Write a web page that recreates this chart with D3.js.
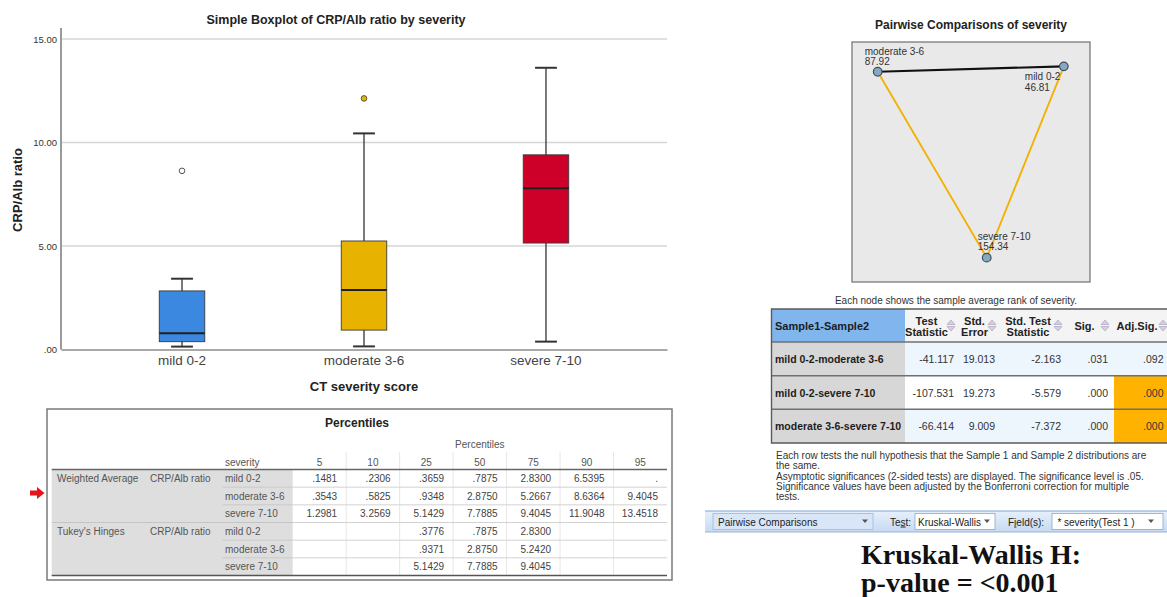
<!DOCTYPE html>
<html>
<head>
<meta charset="utf-8">
<script src="https://cdn.jsdelivr.net/npm/d3@7"></script>
<style>
  body { margin: 0; background: #fff; }
  svg { display: block; font-family: "Liberation Sans", Arial, sans-serif; }
</style>
</head>
<body>
<svg id="chart" width="1167" height="597"></svg>
<script>
// ---------- Box plot data (CRP/Alb ratio by CT severity) ----------
const categories = ["mild 0-2", "moderate 3-6", "severe 7-10"];
const boxColors = ["#3a88e0", "#e8b300", "#cc0029"];
const lowerHinge = [0.3776, 0.9371, 5.1429];
const medians = [0.7875, 2.8750, 7.7885];
const upperHinge = [2.8300, 5.2420, 9.4045];
const whiskerLow = [0.14, 0.15, 0.38];
const whiskerHigh = [3.42, 10.44, 13.61];
const outliers = [[8.63], [12.13], []];
const yTicks = [0, 5, 10, 15];

// ---------- Percentiles table ----------
const percentileLabels = ["5", "10", "25", "50", "75", "90", "95"];
const groupNames = ["Weighted Average", "Tukey's Hinges"];
const variableName = "CRP/Alb ratio";
const weightedAvg = [
  [0.1481, 0.2306, 0.3659, 0.7875, 2.8300, 6.5395, NaN],
  [0.3543, 0.5825, 0.9348, 2.8750, 5.2667, 8.6364, 9.4045],
  [1.2981, 3.2569, 5.1429, 7.7885, 9.4045, 11.9048, 13.4518]
];
const tukeyHinges = [
  [null, null, 0.3776, 0.7875, 2.8300, null, null],
  [null, null, 0.9371, 2.8750, 5.2420, null, null],
  [null, null, 5.1429, 7.7885, 9.4045, null, null]
];

// ---------- Pairwise comparisons (Kruskal-Wallis) ----------
const rankGroups = ["moderate 3-6", "mild 0-2", "severe 7-10"];
const meanRanks = [87.92, 46.81, 154.34];
const pairFrom = ["mild 0-2", "mild 0-2", "moderate 3-6"];
const pairTo = ["moderate 3-6", "severe 7-10", "severe 7-10"];
const testStatistic = [-41.117, -107.531, -66.414];
const stdError = [19.013, 19.273, 9.009];
const stdTestStatistic = [-2.163, -5.579, -7.372];
const sigValues = [0.031, 0.000, 0.000];
const adjSigValues = [0.092, 0.000, 0.000];
const alpha = 0.05;

// node placement inside the comparison panel, in unit coordinates
const nodeLayout = {
  "moderate 3-6": { u: -0.784, v: -0.752, dx: -13, dy: -17 },
  "mild 0-2":     { u: 0.780,  v: -0.797, dx: -39, dy: 14 },
  "severe 7-10":  { u: 0.132,  v: 0.797,  dx: -9,  dy: -18 }
};

const svg = d3.select("#chart");
const spssNum = v => v.toFixed(4).replace(/^0\./, ".");
const sigFmt = v => v.toFixed(3).replace(/^0\./, ".");

// =================== BOX PLOT ===================
const plot = { left: 61, right: 667, top: 28 };
const x = d3.scaleBand().domain(categories).range([plot.left, plot.right])
  .paddingInner(0).paddingOuter(0.165);
const y = d3.scaleLinear().domain([0, 15]).range([349.5, 39]);

const bp = svg.append("g");

bp.append("text").attr("x", 336).attr("y", 24).attr("text-anchor", "middle")
  .attr("font-size", 12.5).attr("font-weight", "bold").attr("fill", "#222")
  .text("Simple Boxplot of CRP/Alb ratio by severity");

// gridlines
bp.selectAll("line.grid").data(yTicks.filter(d => d > 0)).join("line")
  .attr("class", "grid")
  .attr("x1", plot.left).attr("x2", plot.right)
  .attr("y1", d => y(d)).attr("y2", d => y(d))
  .attr("stroke", "#d6d6d6").attr("stroke-width", 1.6);

// y axis
const yAxis = bp.append("g").attr("transform", `translate(${plot.left - 3},0)`)
  .call(d3.axisLeft(y).tickValues(yTicks).tickSize(0).tickPadding(1)
    .tickFormat(d => d === 0 ? ".00" : d.toFixed(2)));
yAxis.select(".domain").remove();
yAxis.selectAll("text").attr("font-size", 9.5).attr("fill", "#333")
  .attr("font-family", "'Liberation Sans', Arial, sans-serif");

bp.append("line").attr("x1", plot.left).attr("x2", plot.left)
  .attr("y1", plot.top).attr("y2", y(0))
  .attr("stroke", "#9a9a9a").attr("stroke-width", 2);

// x axis
const xAxis = bp.append("g").attr("transform", `translate(0,${y(0)})`)
  .call(d3.axisBottom(x).tickSize(0).tickPadding(6));
xAxis.select(".domain").attr("stroke", "#8c8c8c").attr("stroke-width", 1.6);
xAxis.selectAll("text").attr("font-size", 13.5).attr("fill", "#444")
  .attr("font-family", "'Liberation Sans', Arial, sans-serif");

bp.append("text").attr("x", 364).attr("y", 391).attr("text-anchor", "middle")
  .attr("font-size", 13).attr("font-weight", "bold").attr("fill", "#222")
  .text("CT severity score");
bp.append("text").attr("transform", "translate(22,190) rotate(-90)")
  .attr("text-anchor", "middle")
  .attr("font-size", 13).attr("font-weight", "bold").attr("fill", "#222")
  .text("CRP/Alb ratio");

const boxW = x.bandwidth() * 0.25;
const capW = x.bandwidth() * 0.12;
const boxes = bp.selectAll("g.box").data(categories).join("g").attr("class", "box")
  .attr("transform", d => `translate(${x(d) + x.bandwidth() / 2},0)`);

boxes.append("line").attr("x1", 0).attr("x2", 0)
  .attr("y1", (d, i) => y(whiskerLow[i])).attr("y2", (d, i) => y(whiskerHigh[i]))
  .attr("stroke", "#333").attr("stroke-width", 1.3);
boxes.append("line").attr("x1", -capW / 2).attr("x2", capW / 2)
  .attr("y1", (d, i) => y(whiskerHigh[i])).attr("y2", (d, i) => y(whiskerHigh[i]))
  .attr("stroke", "#333").attr("stroke-width", 2);
boxes.append("line").attr("x1", -capW / 2).attr("x2", capW / 2)
  .attr("y1", (d, i) => y(whiskerLow[i])).attr("y2", (d, i) => y(whiskerLow[i]))
  .attr("stroke", "#333").attr("stroke-width", 2);
boxes.append("rect").attr("x", -boxW / 2).attr("width", boxW)
  .attr("y", (d, i) => y(upperHinge[i]))
  .attr("height", (d, i) => y(lowerHinge[i]) - y(upperHinge[i]))
  .attr("fill", (d, i) => boxColors[i]).attr("stroke", "#3a3a3a").attr("stroke-width", 0.9);
boxes.append("line").attr("x1", -boxW / 2).attr("x2", boxW / 2)
  .attr("y1", (d, i) => y(medians[i])).attr("y2", (d, i) => y(medians[i]))
  .attr("stroke", "#1f1f1f").attr("stroke-width", 2);
boxes.each(function (d, i) {
  d3.select(this).selectAll("circle").data(outliers[i]).join("circle")
    .attr("cx", 0).attr("cy", v => y(v)).attr("r", 2.8)
    .attr("fill", i === 0 ? "#fff" : boxColors[i])
    .attr("stroke", "#555").attr("stroke-width", 1);
});

// =================== PERCENTILES TABLE ===================
const pt = svg.append("g");
const T = { x0: 47, y0: 409, x1: 672, y1: 580, inL: 51.7, inR: 667, gray: 292.7, hdrY: 469.5, botY: 575.5 };
const colX = d3.scaleBand().domain(percentileLabels).range([T.gray, T.inR]);
const rowY = d3.scaleBand().domain(d3.range(6)).range([T.hdrY, T.botY]);

pt.append("rect").attr("x", T.x0).attr("y", T.y0).attr("width", T.x1 - T.x0).attr("height", T.y1 - T.y0)
  .attr("fill", "#fff").attr("stroke", "#7a7a7a").attr("stroke-width", 1.5);
pt.append("rect").attr("x", T.inL).attr("y", T.hdrY).attr("width", T.gray - T.inL).attr("height", T.botY - T.hdrY)
  .attr("fill", "#dedede");

pt.append("text").attr("x", 357).attr("y", 427).attr("text-anchor", "middle")
  .attr("font-size", 12).attr("font-weight", "bold").attr("fill", "#222").text("Percentiles");
pt.append("text").attr("x", (T.gray + T.inR) / 2).attr("y", 447.5).attr("text-anchor", "middle")
  .attr("font-size", 10).attr("fill", "#555").text("Percentiles");
pt.append("text").attr("x", 225).attr("y", 466).attr("font-size", 10).attr("fill", "#555").text("severity");
pt.selectAll("text.pc").data(percentileLabels).join("text").attr("class", "pc")
  .attr("x", d => colX(d) + colX.bandwidth() / 2).attr("y", 466).attr("text-anchor", "middle")
  .attr("font-size", 10).attr("fill", "#555").text(d => d);
// faint column separators
pt.selectAll("line.csep").data(percentileLabels.slice(1)).join("line").attr("class", "csep")
  .attr("x1", d => colX(d)).attr("x2", d => colX(d)).attr("y1", 452).attr("y2", T.botY)
  .attr("stroke", "#e6e6e6").attr("stroke-width", 1);

// row separators
d3.range(1, 6).forEach(r => {
  const full = r === 3;
  pt.append("line").attr("x1", full ? T.inL : 222.5).attr("x2", T.gray)
    .attr("y1", rowY(r)).attr("y2", rowY(r))
    .attr("stroke", full ? "#c4c4c4" : "#cacaca").attr("stroke-width", 1);
  pt.append("line").attr("x1", T.gray).attr("x2", T.inR)
    .attr("y1", rowY(r)).attr("y2", rowY(r))
    .attr("stroke", "#d2d2d2").attr("stroke-width", 1);
});
pt.append("line").attr("x1", T.inL).attr("x2", T.inR).attr("y1", T.hdrY).attr("y2", T.hdrY)
  .attr("stroke", "#666").attr("stroke-width", 1.6);
pt.append("line").attr("x1", T.inL).attr("x2", T.inR).attr("y1", T.botY).attr("y2", T.botY)
  .attr("stroke", "#555").attr("stroke-width", 1.6);

const tableRows = [];
[weightedAvg, tukeyHinges].forEach((block, g) => {
  block.forEach((vals, s) => tableRows.push({ g, s, vals }));
});
const rowsG = pt.selectAll("g.prow").data(tableRows).join("g").attr("class", "prow")
  .attr("transform", (d, i) => `translate(0,${rowY(i) + rowY.bandwidth() / 2 + 3.5})`);
rowsG.filter(d => d.s === 0).append("text").attr("x", 57).attr("font-size", 10).attr("fill", "#555")
  .text(d => groupNames[d.g]);
rowsG.filter(d => d.s === 0).append("text").attr("x", 150).attr("font-size", 10).attr("fill", "#555")
  .text(variableName);
rowsG.append("text").attr("x", 225).attr("font-size", 10).attr("fill", "#555")
  .text(d => categories[d.s]);
rowsG.each(function (d) {
  d3.select(this).selectAll("text.v").data(d.vals).join("text").attr("class", "v")
    .attr("x", (v, j) => colX(percentileLabels[j]) + colX.bandwidth() - 9)
    .attr("text-anchor", "end").attr("font-size", 10).attr("fill", "#444")
    .text(v => v === null ? "" : (Number.isNaN(v) ? "." : spssNum(v)));
});

// row marker
pt.append("path")
  .attr("d", "M30,490.5 L37,490.5 L37,487 L44.5,493 L37,499 L37,495.5 L30,495.5 Z")
  .attr("fill", "#e8141b");

// =================== PAIRWISE COMPARISONS GRAPH ===================
const pw = svg.append("g");
const P = { x0: 852, x1: 1090, y0: 42, y1: 282 };
const gx = d3.scaleLinear().domain([-1, 1]).range([P.x0, P.x1]);
const gy = d3.scaleLinear().domain([-1, 1]).range([P.y0, P.y1]);

pw.append("text").attr("x", 971).attr("y", 29).attr("text-anchor", "middle")
  .attr("font-size", 12).attr("font-weight", "bold").attr("fill", "#222")
  .text("Pairwise Comparisons of severity");
pw.append("rect").attr("x", P.x0).attr("y", P.y0).attr("width", P.x1 - P.x0).attr("height", P.y1 - P.y0)
  .attr("fill", "#e9e9e9").attr("stroke", "#7a7a7a").attr("stroke-width", 1.3);

const nodePos = g => [gx(nodeLayout[g].u), gy(nodeLayout[g].v)];
pw.selectAll("line.edge").data(pairFrom.map((f, i) => i)).join("line").attr("class", "edge")
  .attr("x1", i => nodePos(pairFrom[i])[0]).attr("y1", i => nodePos(pairFrom[i])[1])
  .attr("x2", i => nodePos(pairTo[i])[0]).attr("y2", i => nodePos(pairTo[i])[1])
  .attr("stroke", i => adjSigValues[i] < alpha ? "#f2b000" : "#111")
  .attr("stroke-width", i => adjSigValues[i] < alpha ? 1.8 : 2.2);

const nodes = pw.selectAll("g.node").data(rankGroups).join("g").attr("class", "node")
  .attr("transform", g => `translate(${nodePos(g)[0]},${nodePos(g)[1]})`);
nodes.append("circle").attr("r", 4.3).attr("fill", "#86a9c0").attr("stroke", "#3b4d5c").attr("stroke-width", 1.2);
nodes.append("text").attr("x", g => nodeLayout[g].dx).attr("y", g => nodeLayout[g].dy)
  .attr("font-size", 10).attr("fill", "#333").text(g => g);
nodes.append("text").attr("x", g => nodeLayout[g].dx).attr("y", g => nodeLayout[g].dy + 10.5)
  .attr("font-size", 10).attr("fill", "#333").text((g, i) => meanRanks[i].toFixed(2));

pw.append("text").attr("x", 956).attr("y", 304).attr("text-anchor", "middle")
  .attr("font-size", 10).attr("fill", "#333")
  .text("Each node shows the sample average rank of severity.");

// =================== PAIRWISE TABLE ===================
const rt = svg.append("g");
const R = { x0: 771.5, x1: 1172, labR: 905, hTop: 309, hBot: 342, bot: 443 };
const dataCols = [
  { head: ["Test", "Statistic"], right: 960, vals: testStatistic, fmt: v => v.toFixed(3) },
  { head: ["Std.", "Error"], right: 1001, vals: stdError, fmt: v => v.toFixed(3) },
  { head: ["Std. Test", "Statistic"], right: 1067, vals: stdTestStatistic, fmt: v => v.toFixed(3) },
  { head: ["Sig."], right: 1114, vals: sigValues, fmt: sigFmt },
  { head: ["Adj.Sig."], right: 1172, vals: adjSigValues, fmt: sigFmt }
];
dataCols.forEach((c, i) => { c.left = i === 0 ? R.labR : dataCols[i - 1].right; });
const rY = d3.scaleBand().domain(d3.range(pairFrom.length)).range([R.hBot, R.bot]);

// header
rt.append("rect").attr("x", R.x0).attr("y", R.hTop).attr("width", R.labR - R.x0).attr("height", R.hBot - R.hTop)
  .attr("fill", "#80b5ee");
rt.append("rect").attr("x", R.labR).attr("y", R.hTop).attr("width", R.x1 - R.labR).attr("height", R.hBot - R.hTop)
  .attr("fill", "#f4f4f4");
rt.append("text").attr("x", 775).attr("y", R.hTop + 21).attr("font-size", 11).attr("font-weight", "bold")
  .attr("fill", "#1d1d1d").text("Sample1-Sample2");

const heads = rt.selectAll("g.head").data(dataCols).join("g").attr("class", "head");
heads.each(function (c) {
  const g = d3.select(this);
  const cx = (c.left + c.right - 16) / 2 + 2;
  const mid = (R.hTop + R.hBot) / 2;
  c.head.forEach((t, k) => {
    g.append("text").attr("x", cx).attr("y", mid + 4 + (c.head.length === 2 ? (k === 0 ? -5 : 6) : 0))
      .attr("text-anchor", "middle").attr("font-size", 11).attr("font-weight", "bold")
      .attr("fill", "#222").text(t);
  });
  const ax = c.right - 9;
  g.append("path").attr("d", `M${ax - 4},${mid - 1} L${ax + 4},${mid - 1} L${ax},${mid - 5.5} Z`)
    .attr("fill", "#d6cfe0").attr("stroke", "#a59cb4").attr("stroke-width", 0.6);
  g.append("path").attr("d", `M${ax - 4},${mid + 1} L${ax + 4},${mid + 1} L${ax},${mid + 5.5} Z`)
    .attr("fill", "#d6cfe0").attr("stroke", "#a59cb4").attr("stroke-width", 0.6);
});

// body rows
const rowBg = i => i % 2 === 0 ? "#edf5fd" : "#ffffff";
pairFrom.forEach((f, i) => {
  const top = rY(i), h = rY.bandwidth();
  rt.append("rect").attr("x", R.x0).attr("y", top).attr("width", R.labR - R.x0).attr("height", h).attr("fill", "#d7d7d7");
  rt.append("rect").attr("x", R.labR).attr("y", top).attr("width", R.x1 - R.labR).attr("height", h).attr("fill", rowBg(i));
  rt.append("text").attr("x", 775).attr("y", top + h / 2 + 4).attr("font-size", 10.5).attr("font-weight", "bold")
    .attr("fill", "#1d1d1d").text(`${f}-${pairTo[i]}`);
  dataCols.forEach((c, k) => {
    if (k === dataCols.length - 1 && c.vals[i] < alpha) {
      rt.append("rect").attr("x", c.left).attr("y", top).attr("width", c.right - c.left).attr("height", h)
        .attr("fill", "#ffb300");
    }
    const tx = k === dataCols.length - 1 ? 1163.5 : c.right - 6;
    rt.append("text").attr("x", tx).attr("y", top + h / 2 + 4).attr("text-anchor", "end")
      .attr("font-size", 10.5).attr("fill", "#333").text(c.fmt(c.vals[i]));
  });
});
// rules
[R.hBot, ...d3.range(1, pairFrom.length).map(i => rY(i))].forEach(yy => {
  rt.append("line").attr("x1", R.x0).attr("x2", R.x1).attr("y1", yy).attr("y2", yy)
    .attr("stroke", "#707070").attr("stroke-width", 1.5);
});
rt.append("path").attr("d", `M${R.x1},${R.hTop} L${R.x0},${R.hTop} L${R.x0},${R.bot} L${R.x1},${R.bot}`)
  .attr("fill", "none").attr("stroke", "#5a5a5a").attr("stroke-width", 1.4);

// footnotes
const notes = [
  "Each row tests the null hypothesis that the Sample 1 and Sample 2 distributions are",
  "the same.",
  "Asymptotic significances (2-sided tests) are displayed. The significance level is .05.",
  "Significance values have been adjusted by the Bonferroni correction for multiple",
  "tests."
];
rt.selectAll("text.note").data(notes).join("text").attr("class", "note")
  .attr("x", 776).attr("y", (d, i) => 459 + i * 10.3).attr("font-size", 10).attr("fill", "#333").text(d => d);

// =================== TOOLBAR ===================
const tb = svg.append("g");
const defs = svg.append("defs");
const grad = defs.append("linearGradient").attr("id", "tbGrad").attr("x1", 0).attr("x2", 0).attr("y1", 0).attr("y2", 1);
grad.append("stop").attr("offset", "0%").attr("stop-color", "#e6f0fb");
grad.append("stop").attr("offset", "100%").attr("stop-color", "#c6daf2");
tb.append("rect").attr("x", 705).attr("y", 511).attr("width", 462).attr("height", 21).attr("fill", "url(#tbGrad)");
tb.append("line").attr("x1", 705).attr("x2", 1167).attr("y1", 511).attr("y2", 511).attr("stroke", "#7fa6d6").attr("stroke-width", 1.2);
tb.append("line").attr("x1", 705).attr("x2", 1167).attr("y1", 532).attr("y2", 532).attr("stroke", "#9ab3d0").attr("stroke-width", 1);

tb.append("rect").attr("x", 713).attr("y", 513.5).attr("width", 160).attr("height", 16)
  .attr("fill", "#d8e6f7").attr("stroke", "#9fb8d8").attr("stroke-width", 0.8);
tb.append("rect").attr("x", 915).attr("y", 513.5).attr("width", 80).attr("height", 16)
  .attr("fill", "#fff").attr("stroke", "#8ea8c8").attr("stroke-width", 0.8);
tb.append("rect").attr("x", 1052).attr("y", 513.5).attr("width", 111).attr("height", 16)
  .attr("fill", "#fff").attr("stroke", "#8ea8c8").attr("stroke-width", 0.8);

const tbText = (xx, t, anchor) => tb.append("text").attr("x", xx).attr("y", 525.5)
  .attr("font-size", 10).attr("fill", "#222").attr("text-anchor", anchor || "start").text(t);
tbText(718, "Pairwise Comparisons");
tbText(918, "Kruskal-Wallis");
tbText(1096, "* severity(Test 1 )", "middle");
const testLbl = tb.append("text").attr("x", 890).attr("y", 525.5).attr("font-size", 10).attr("fill", "#222");
testLbl.append("tspan").text("Te");
testLbl.append("tspan").attr("text-decoration", "underline").text("s");
testLbl.append("tspan").text("t:");
const fieldLbl = tb.append("text").attr("x", 1008).attr("y", 525.5).attr("font-size", 10).attr("fill", "#222");
fieldLbl.append("tspan").text("F");
fieldLbl.append("tspan").attr("text-decoration", "underline").text("i");
fieldLbl.append("tspan").text("eld(s):");
[865, 987, 1151].forEach(ax => {
  tb.append("path").attr("d", `M${ax - 3},${519.5} L${ax + 3},${519.5} L${ax},${523} Z`).attr("fill", "#555");
});

// =================== TEST RESULT ===================
const res = svg.append("g").attr("font-family", "'Liberation Serif', 'Times New Roman', serif")
  .attr("font-weight", "bold").attr("fill", "#111");
res.append("text").attr("x", 861).attr("y", 564).attr("font-size", 28).text("Kruskal-Wallis H:");
res.append("text").attr("x", 861).attr("y", 592).attr("font-size", 28).text("p-value = <0.001");
</script>
</body>
</html>
